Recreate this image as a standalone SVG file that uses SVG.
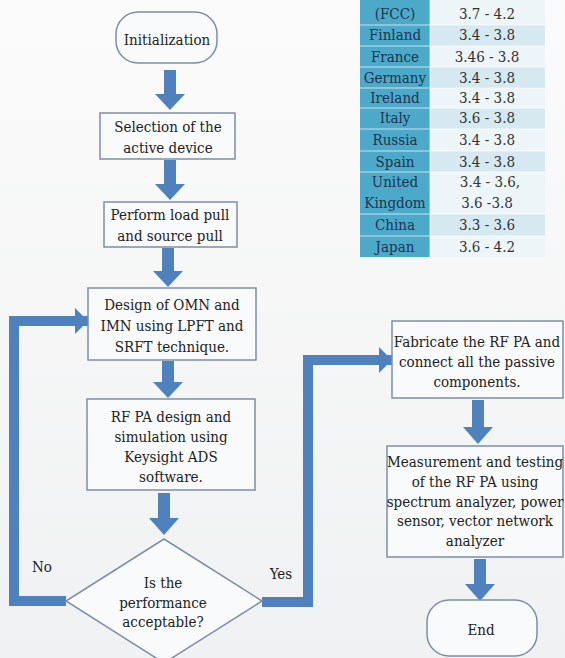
<svg xmlns="http://www.w3.org/2000/svg" width="565" height="658" viewBox="0 0 565 658">
  <style>
    text { font-family: 'DejaVu Serif Condensed', 'DejaVu Serif', serif; font-stretch: condensed; font-size: 15px; fill: #222; text-anchor: middle; }
    .box { fill: #f9fafc; stroke: #7d8ea6; stroke-width: 1.5; }
    .blk { fill: #4f81bd; }
    .wire { fill: none; stroke: #4f81bd; stroke-width: 10; stroke-linejoin: miter; }
    .key { fill: #4ca9c9; }
    .dark { fill: #d6e9f1; }
    .light { fill: #edf5f8; }
    .sep { stroke: #ffffff; stroke-width: 1; opacity: 0.7; }
    .kt { fill: #1d3550; }
    .vt { fill: #333; }
  </style>
  <defs>
    <linearGradient id="bg" x1="0" y1="0" x2="0" y2="1">
      <stop offset="0" stop-color="#fbfbfb"/>
      <stop offset="1" stop-color="#f0f1f2"/>
    </linearGradient>
    <marker id="head" markerUnits="userSpaceOnUse" markerWidth="14" markerHeight="26" refX="13" refY="13" orient="auto">
      <path d="M0,0 L13,13 L0,26 Z" fill="#4f81bd"/>
    </marker>
  </defs>

  <rect width="565" height="658" fill="url(#bg)"/>

  <!-- band table -->
  <g id="band-table">
    <rect class="key" x="360" y="0" width="70" height="257"/>
    <rect class="light" x="430" y="0" width="115" height="25"/>
    <rect class="dark" x="430" y="25" width="115" height="21"/>
    <rect class="light" x="430" y="46" width="115" height="21"/>
    <rect class="dark" x="430" y="67" width="115" height="21"/>
    <rect class="light" x="430" y="88" width="115" height="20"/>
    <rect class="dark" x="430" y="108" width="115" height="21"/>
    <rect class="light" x="430" y="129" width="115" height="22"/>
    <rect class="dark" x="430" y="151" width="115" height="21"/>
    <rect class="light" x="430" y="172" width="115" height="42"/>
    <rect class="dark" x="430" y="214" width="115" height="22"/>
    <rect class="light" x="430" y="236" width="115" height="21"/>
    <g class="sep">
      <line x1="360" y1="25" x2="545" y2="25"/>
      <line x1="360" y1="46" x2="545" y2="46"/>
      <line x1="360" y1="67" x2="545" y2="67"/>
      <line x1="360" y1="88" x2="545" y2="88"/>
      <line x1="360" y1="108" x2="545" y2="108"/>
      <line x1="360" y1="129" x2="545" y2="129"/>
      <line x1="360" y1="151" x2="545" y2="151"/>
      <line x1="360" y1="172" x2="545" y2="172"/>
      <line x1="360" y1="214" x2="545" y2="214"/>
      <line x1="360" y1="236" x2="545" y2="236"/>
      <line x1="430" y1="0" x2="430" y2="257"/>
    </g>
    <text class="kt" x="395" y="19">(FCC)</text>
    <text class="kt" x="395" y="40">Finland</text>
    <text class="kt" x="395" y="62">France</text>
    <text class="kt" x="395" y="83">Germany</text>
    <text class="kt" x="395" y="103">Ireland</text>
    <text class="kt" x="395" y="123">Italy</text>
    <text class="kt" x="395" y="145">Russia</text>
    <text class="kt" x="395" y="167">Spain</text>
    <text class="kt" x="395" y="187">United</text>
    <text class="kt" x="395" y="208">Kingdom</text>
    <text class="kt" x="395" y="230">China</text>
    <text class="kt" x="395" y="252">Japan</text>
    <text class="vt" x="487" y="19">3.7 - 4.2</text>
    <text class="vt" x="487" y="40">3.4 - 3.8</text>
    <text class="vt" x="487" y="62">3.46 - 3.8</text>
    <text class="vt" x="487" y="83">3.4 - 3.8</text>
    <text class="vt" x="487" y="103">3.4 - 3.8</text>
    <text class="vt" x="487" y="123">3.6 - 3.8</text>
    <text class="vt" x="487" y="145">3.4 - 3.8</text>
    <text class="vt" x="487" y="167">3.4 - 3.8</text>
    <text class="vt" x="490" y="187">3.4 - 3.6,</text>
    <text class="vt" x="487" y="208">3.6 -3.8</text>
    <text class="vt" x="487" y="230">3.3 - 3.6</text>
    <text class="vt" x="487" y="252">3.6 - 4.2</text>
  </g>

  <!-- connectors -->
  <g id="connectors">
    <polygon class="blk" points="164,70 176,70 176,94 185,94 170,110 155,94 164,94"/>
    <polygon class="blk" points="164,160 176,160 176,184 185,184 170,200 155,184 164,184"/>
    <polygon class="blk" points="162,248 174,248 174,271 183,271 168,287 153,271 162,271"/>
    <polygon class="blk" points="162,361 174,361 174,382 183,382 168,398 153,382 162,382"/>
    <polygon class="blk" points="158,493 170,493 170,518 179,518 164,535 149,518 158,518"/>
    <polygon class="blk" points="472,400 484,400 484,427 493,427 478,444 463,427 472,427"/>
    <polygon class="blk" points="474,559 486,559 486,584 495,584 480,601 465,584 474,584"/>
    <polyline class="wire" points="66,601 14,601 14,321 88,321" marker-end="url(#head)"/>
    <polyline class="wire" points="262,602 308,602 308,360 392,360" marker-end="url(#head)"/>
    <text x="42" y="572">No</text>
    <text x="281" y="579">Yes</text>
  </g>

  <g id="initialization">
    <rect class="box" x="116" y="12" width="101" height="51" rx="22" ry="22"/>
    <text x="167" y="45">Initialization</text>
  </g>

  <g id="select-device">
    <rect class="box" x="100" y="113" width="135" height="46"/>
    <text x="168" y="132">Selection of  the</text>
    <text x="168" y="153">active device</text>
  </g>

  <g id="load-source-pull">
    <rect class="box" x="104" y="202" width="133" height="45"/>
    <text x="170" y="220">Perform load pull</text>
    <text x="170" y="241">and source pull</text>
  </g>

  <g id="matching-design">
    <rect class="box" x="88" y="288" width="168" height="72"/>
    <text x="172" y="310">Design of OMN and</text>
    <text x="172" y="331">IMN using LPFT and</text>
    <text x="172" y="352">SRFT technique.</text>
  </g>

  <g id="pa-simulation">
    <rect class="box" x="87" y="399" width="168" height="91"/>
    <text x="171" y="422">RF PA design and</text>
    <text x="171" y="442">simulation using</text>
    <text x="171" y="462">Keysight ADS</text>
    <text x="171" y="482">software.</text>
  </g>

  <g id="decision">
    <polygon class="box" points="164,539 262,601 164,663 66,601"/>
    <text x="163" y="588">Is the</text>
    <text x="163" y="608">performance</text>
    <text x="163" y="627">acceptable?</text>
  </g>

  <g id="fabricate">
    <rect class="box" x="392" y="321" width="171" height="77"/>
    <text x="477" y="347">Fabricate the RF PA and</text>
    <text x="477" y="367">connect all the passive</text>
    <text x="477" y="387">components.</text>
  </g>

  <g id="measurement">
    <rect class="box" x="387" y="446" width="176" height="111"/>
    <text x="475" y="467">Measurement and testing</text>
    <text x="475" y="487">of the RF PA using</text>
    <text x="475" y="507">spectrum analyzer, power</text>
    <text x="475" y="526">sensor, vector network</text>
    <text x="475" y="546">analyzer</text>
  </g>

  <g id="end">
    <rect class="box" x="427" y="600" width="110" height="56" rx="22" ry="22"/>
    <text x="481" y="635">End</text>
  </g>
</svg>
